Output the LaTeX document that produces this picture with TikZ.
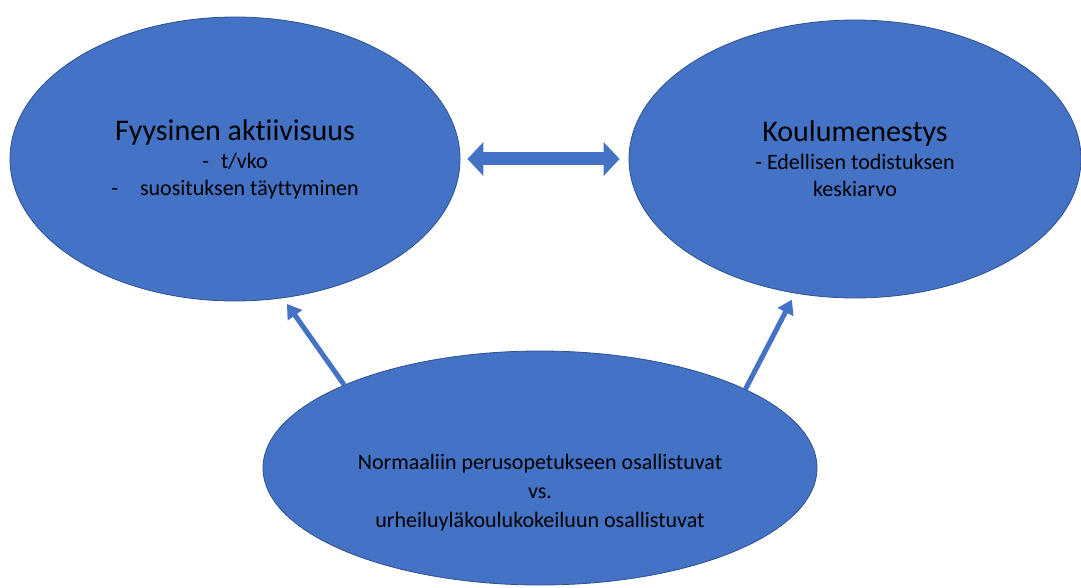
\documentclass[tikz,border=0pt]{standalone}
\usepackage{fontspec}
\setmainfont{Carlito}[Ligatures=NoCommon]
\usepackage{tikz}
\usetikzlibrary{shapes.geometric,arrows.meta}
\definecolor{bubfill}{HTML}{4472C4}
\definecolor{bubline}{HTML}{2F528F}
\tikzstyle{bub} = [ellipse, draw=bubline, fill=bubfill, line width=0.8pt, inner sep=0pt, align=center, font={\fontsize{22}{27}\selectfont}]
\tikzstyle{txt} = [align=center, font={\fontsize{22}{29}\selectfont}]
\tikzstyle{link} = [draw=bubfill, line width=5pt, -{Triangle[width=17pt,length=14pt]}]
\tikzstyle{dlink} = [draw=bubfill, line width=13pt, {Triangle[width=33pt,length=16pt]}-{Triangle[width=33pt,length=16pt]}]
\newcommand{\otsikko}[1]{{\fontsize{30}{33}\selectfont #1}}

\begin{document}
\begin{tikzpicture}[x=1pt,y=1pt]
    \useasboundingbox (0,0) rectangle (1081,587);
    \node[bub,minimum width=450pt,minimum height=284pt](fa) at (235,428){\otsikko{Fyysinen aktiivisuus}\\[1pt]-\hspace{12pt}t/vko\\-\hspace{22pt}suosituksen täyttyminen};
    \node[bub,minimum width=452pt,minimum height=278pt](km) at (855,428){\otsikko{Koulumenestys}\\[1pt]- Edellisen todistuksen\\keskiarvo};
    \node[bub,minimum width=554pt,minimum height=234pt](ryhma) at (540,119){};
    \node[txt](ryhmateksti) at (540,94){Normaaliin perusopetukseen osallistuvat\\vs.\\urheiluyläkoulukokeiluun osallistuvat};
    \draw[dlink,shorten <=7pt,shorten >=9pt](fa.east)--(km.west);
    \draw[link,shorten >=7pt](ryhma.157)--(fa.-71);
    \draw[link,shorten >=7pt](ryhma.21)--(km.246);
  \end{tikzpicture}
\end{document}
